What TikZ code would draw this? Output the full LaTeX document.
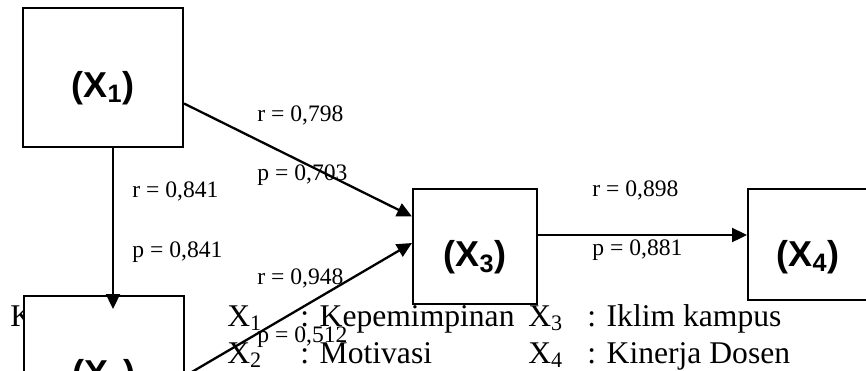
\documentclass[tikz,border=0pt]{standalone}
\usepackage{fontspec}
\setmainfont{Liberation Serif}
\newfontfamily\boxfont{Liberation Sans}
\usetikzlibrary{arrows.meta}
\begin{document}
\begin{tikzpicture}[x=0.5pt, y=-0.5pt,
    varbox/.style={draw, line width=1pt, fill=white, inner sep=0pt},
    varlabel/.style={inner sep=0pt, font=\boxfont\bfseries\fontsize{18}{21}\selectfont},
    coef/.style={anchor=west, inner sep=0pt, font=\fontsize{11.8}{14}\selectfont},
    legend/.style={anchor=base west, inner sep=0pt, font=\fontsize{15.8}{19}\selectfont},
    conn/.style={-{Triangle[length=7.5pt, width=7pt]}, line width=1.15pt}]
        \useasboundingbox (0,0) rectangle (866,370);
        \clip (0,0) rectangle (866,370);

        % Legend (lies behind the boxes)
        \node[legend] (ket) at (10,326) {Keterangan :};
        \node[legend] (k1) at (227,326) {X\textsubscript{1}};
        \node[legend] (d1) at (300,326) {: Kepemimpinan};
        \node[legend] (k3) at (528,326) {X\textsubscript{3}};
        \node[legend] (d3) at (587,326) {: Iklim kampus};
        \node[legend] (k2) at (227,363) {X\textsubscript{2}};
        \node[legend] (d2) at (300,363) {: Motivasi};
        \node[legend] (k4) at (528,363) {X\textsubscript{4}};
        \node[legend] (d4) at (587,363) {: Kinerja Dosen};

        % Variable boxes
        \node[varbox, minimum width=80pt, minimum height=69.5pt] (x1) at (103,77.5) {};
        \node[varbox, minimum width=80pt, minimum height=69.5pt] (x2) at (104,365.5) {};
        \node[varbox, minimum width=62pt, minimum height=57.5pt] (x3) at (475,246.5) {};
        \node[varbox, minimum width=60pt, minimum height=55.5pt] (x4) at (808,244.5) {};
        \node[varlabel] (x1l) at (103,88) {(X\textsubscript{1})};
        \node[varlabel] (x2l) at (104,376) {(X\textsubscript{2})};
        \node[varlabel] (x3l) at (475,257) {(X\textsubscript{3})};
        \node[varlabel] (x4l) at (808,257) {(X\textsubscript{4})};

        % Paths
        \draw[conn] ([xshift=5pt]x1.south) -- ([xshift=4.5pt, yshift=-7pt]x2.north);
        \draw[conn] ([yshift=-13pt]x1.east) -- ([yshift=15pt]x3.west);
        \draw[conn] ([yshift=-5.25pt]x2.east) -- ([yshift=1.75pt]x3.west);
        \draw[conn] ([yshift=5.75pt]x3.east) -- ([yshift=4.75pt]x4.west);

        % Coefficients
        \node[coef] (r13) at (257,115) {r = 0,798};
        \node[coef] (p13) at (257,175) {p = 0,703};
        \node[coef] (r12) at (132,191) {r = 0,841};
        \node[coef] (p12) at (132,252) {p = 0,841};
        \node[coef] (r23) at (257,278) {r = 0,948};
        \node[coef] (p23) at (257,337) {p = 0,512};
        \node[coef] (r34) at (592,190) {r = 0,898};
        \node[coef] (p34) at (592,250) {p = 0,881};
    \end{tikzpicture}
\end{document}
